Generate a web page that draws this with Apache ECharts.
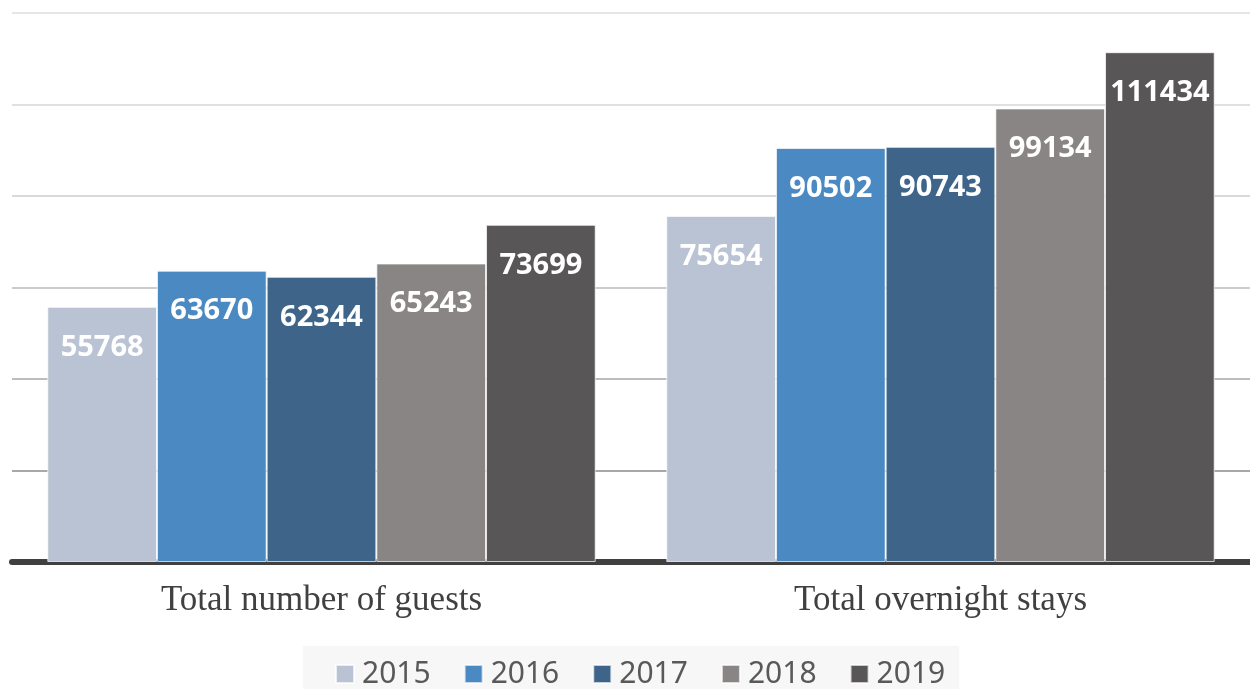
<!DOCTYPE html>
<html>
<head>
<meta charset="utf-8">
<script src="https://cdn.jsdelivr.net/npm/echarts@6/dist/echarts.min.js"></script>
<style>
  html, body { margin: 0; padding: 0; background: #fff; }
  #chart { width: 1250px; height: 689px; }
</style>
</head>
<body>
<div id="chart"></div>
<script>
var categories = ['Total number of guests', 'Total overnight stays'];
var years = ['2015', '2016', '2017', '2018', '2019'];
var v2015 = [55768, 75654];
var v2016 = [63670, 90502];
var v2017 = [62344, 90743];
var v2018 = [65243, 99134];
var v2019 = [73699, 111434];
var yearValues = [v2015, v2016, v2017, v2018, v2019];
var colors = ['#b9c3d3', '#4b89c2', '#3e6489', '#898584', '#595657'];

var myChart = echarts.init(document.getElementById('chart'));

var series = years.map(function (y, i) {
  return {
    name: y,
    type: 'bar',
    data: yearValues[i],
    barGap: '0%',
    barCategoryGap: '11.4%',
    itemStyle: { color: colors[i], borderColor: 'rgba(255,255,255,0.7)', borderWidth: 1 },
    label: {
      show: true,
      position: 'insideTop',
      distance: 26,
      color: '#fff',
      fontFamily: 'Open Sans',
      fontWeight: 'bold',
      fontSize: 29
    }
  };
});

var option = {
  animation: false,
  color: colors,
  grid: { left: 12, right: 0, top: 13, bottom: 127, containLabel: false },
  legend: {
    data: years,
    left: 303,
    top: 646,
    backgroundColor: '#f7f7f7',
    padding: [13, 14, 13, 32],
    itemWidth: 18,
    itemHeight: 18,
    itemGap: 33,
    icon: 'rect',
    textStyle: {
      fontFamily: 'Noto Sans',
      fontSize: 30,
      color: '#595959',
      padding: [0, 0, 0, 3]
    }
  },
  xAxis: {
    type: 'category',
    data: categories,
    axisTick: { show: false },
    axisLine: { lineStyle: { color: '#404040', width: 6 } },
    axisLabel: {
      margin: 21,
      fontFamily: 'Liberation Serif',
      fontSize: 35,
      color: '#404040'
    }
  },
  yAxis: {
    type: 'value',
    min: 0,
    max: 120000,
    interval: 20000,
    axisLabel: { show: false },
    axisLine: { show: false },
    axisTick: { show: false },
    splitLine: {
      lineStyle: {
        width: 2,
        color: ['#404040', '#a8a8a8', '#bdbdbd', '#cccccc', '#d9d9d9', '#e0e0e0', '#e6e6e6']
      }
    }
  },
  series: series
};

myChart.setOption(option);
</script>
</body>
</html>
